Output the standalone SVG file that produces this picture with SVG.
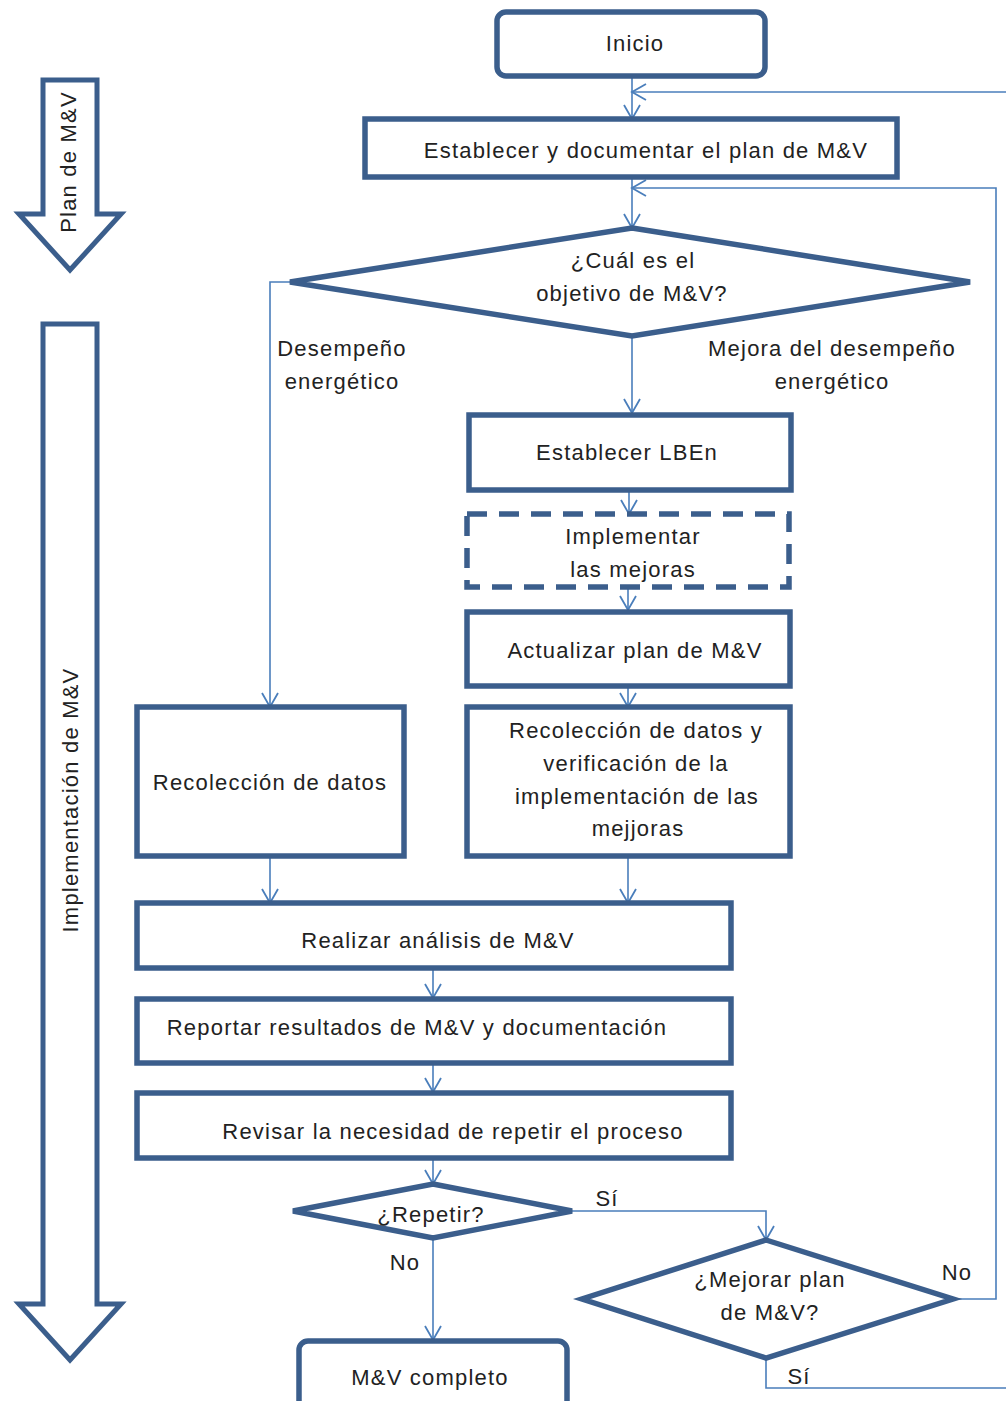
<svg xmlns="http://www.w3.org/2000/svg" width="1006" height="1401" viewBox="0 0 1006 1401">
<defs>
<marker id="ah" markerUnits="userSpaceOnUse" markerWidth="20" markerHeight="20" viewBox="0 0 20 20" refX="16" refY="10" orient="auto">
<path d="M2,2 L16,10 L2,18" fill="none" stroke="#4a7ebb" stroke-width="1.8"/>
</marker>
</defs>
<style>
.n{fill:#fff;stroke:#3b5e8c;stroke-width:5.5}
.a{fill:#fff;stroke:#3b5e8c;stroke-width:5}
.d{fill:#fff;stroke:#3b5e8c;stroke-width:5.5;stroke-dasharray:20 12}
.c{fill:none;stroke:#4a7ebb;stroke-width:1.6}
.ca{fill:none;stroke:#4a7ebb;stroke-width:1.6;marker-end:url(#ah)}
text{font-family:"Liberation Sans",Arial,sans-serif;font-size:22px;letter-spacing:1.2px;fill:#222;text-anchor:middle;dominant-baseline:central}
</style>
<rect width="1006" height="1401" fill="#fff"/>

<g id="phase-plan">
<path class="a" d="M43,80 H97 V214 H121 L70,270 L19,214 H43 Z"/>
<text transform="translate(68,162) rotate(-90)">Plan de M&amp;V</text>
</g>
<g id="phase-impl">
<path class="a" d="M43,324 H97 V1304 H121 L70,1360 L19,1304 H43 Z"/>
<text transform="translate(70,800) rotate(-90)">Implementación de M&amp;V</text>
</g>

<g id="connectors">
<path class="ca" d="M632,76 V119"/>
<path class="ca" d="M1012,92 H632"/>
<path class="ca" d="M632,177 V228"/>
<path class="ca" d="M953,1299 H996 V188 H632"/>
<path class="ca" d="M290,282 H270 V707"/>
<path class="ca" d="M632,336 V413"/>
<path class="ca" d="M629,490 V514"/>
<path class="ca" d="M628,587 V610"/>
<path class="ca" d="M628,686 V707"/>
<path class="ca" d="M270,856 V903"/>
<path class="ca" d="M628,856 V903"/>
<path class="ca" d="M433,968 V998"/>
<path class="ca" d="M433,1063 V1092"/>
<path class="ca" d="M433,1158 V1184"/>
<path class="ca" d="M572,1211 H766 V1240"/>
<path class="ca" d="M433,1238 V1340"/>
<path class="c" d="M766,1358 V1388 H1012"/>
<text x="342" y="348">Desempeño</text>
<text x="342" y="381">energético</text>
<text x="832" y="348">Mejora del desempeño</text>
<text x="832" y="381">energético</text>
<text x="607" y="1198">Sí</text>
<text x="405" y="1262">No</text>
<text x="957" y="1272">No</text>
<text x="799" y="1376">Sí</text>
</g>

<g id="inicio">
<rect class="n" x="497" y="12" width="268" height="64" rx="9"/>
<text x="635" y="43">Inicio</text>
</g>
<g id="establecer-plan">
<rect class="n" x="365" y="119" width="532" height="58"/>
<text x="646" y="150">Establecer y documentar el plan de M&amp;V</text>
</g>
<g id="objetivo">
<polygon class="n" points="632,228 970,282 632,336 290,282"/>
<text x="633" y="260">¿Cuál es el</text>
<text x="632" y="293">objetivo  de M&amp;V?</text>
</g>
<g id="lben">
<rect class="n" x="469" y="415" width="322" height="75"/>
<text x="627" y="452">Establecer LBEn</text>
</g>
<g id="implementar">
<rect class="d" x="467" y="514" width="322" height="73"/>
<text x="633" y="536">Implementar</text>
<text x="633" y="569">las mejoras</text>
</g>
<g id="actualizar">
<rect class="n" x="467" y="612" width="323" height="74"/>
<text x="635" y="650">Actualizar plan de M&amp;V</text>
</g>
<g id="recoleccion">
<rect class="n" x="137" y="707" width="267" height="149"/>
<text x="270" y="782">Recolección de datos</text>
</g>
<g id="recoleccion-verif">
<rect class="n" x="467" y="707" width="323" height="149"/>
<text x="636" y="730">Recolección de datos y</text>
<text x="636" y="763">verificación de la</text>
<text x="637" y="796">implementación de las</text>
<text x="638" y="828">mejjoras</text>
</g>
<g id="analisis">
<rect class="n" x="137" y="903" width="594" height="65"/>
<text x="438" y="940">Realizar análisis de M&amp;V</text>
</g>
<g id="reportar">
<rect class="n" x="137" y="999" width="594" height="64"/>
<text x="417" y="1027">Reportar resultados  de M&amp;V y documentación</text>
</g>
<g id="revisar">
<rect class="n" x="137" y="1093" width="594" height="65"/>
<text x="453" y="1131">Revisar la necesidad de repetir el proceso</text>
</g>
<g id="repetir">
<polygon class="n" points="433,1184 572,1211 433,1238 293,1211"/>
<text x="431" y="1214">¿Repetir?</text>
</g>
<g id="completo">
<rect class="n" x="299" y="1341" width="268" height="80" rx="9"/>
<text x="430" y="1377">M&amp;V completo</text>
</g>
<g id="mejorar">
<polygon class="n" points="766,1240 953,1299 766,1358 582,1299"/>
<text x="770" y="1279">¿Mejorar plan</text>
<text x="770" y="1312">de M&amp;V?</text>
</g>
</svg>
